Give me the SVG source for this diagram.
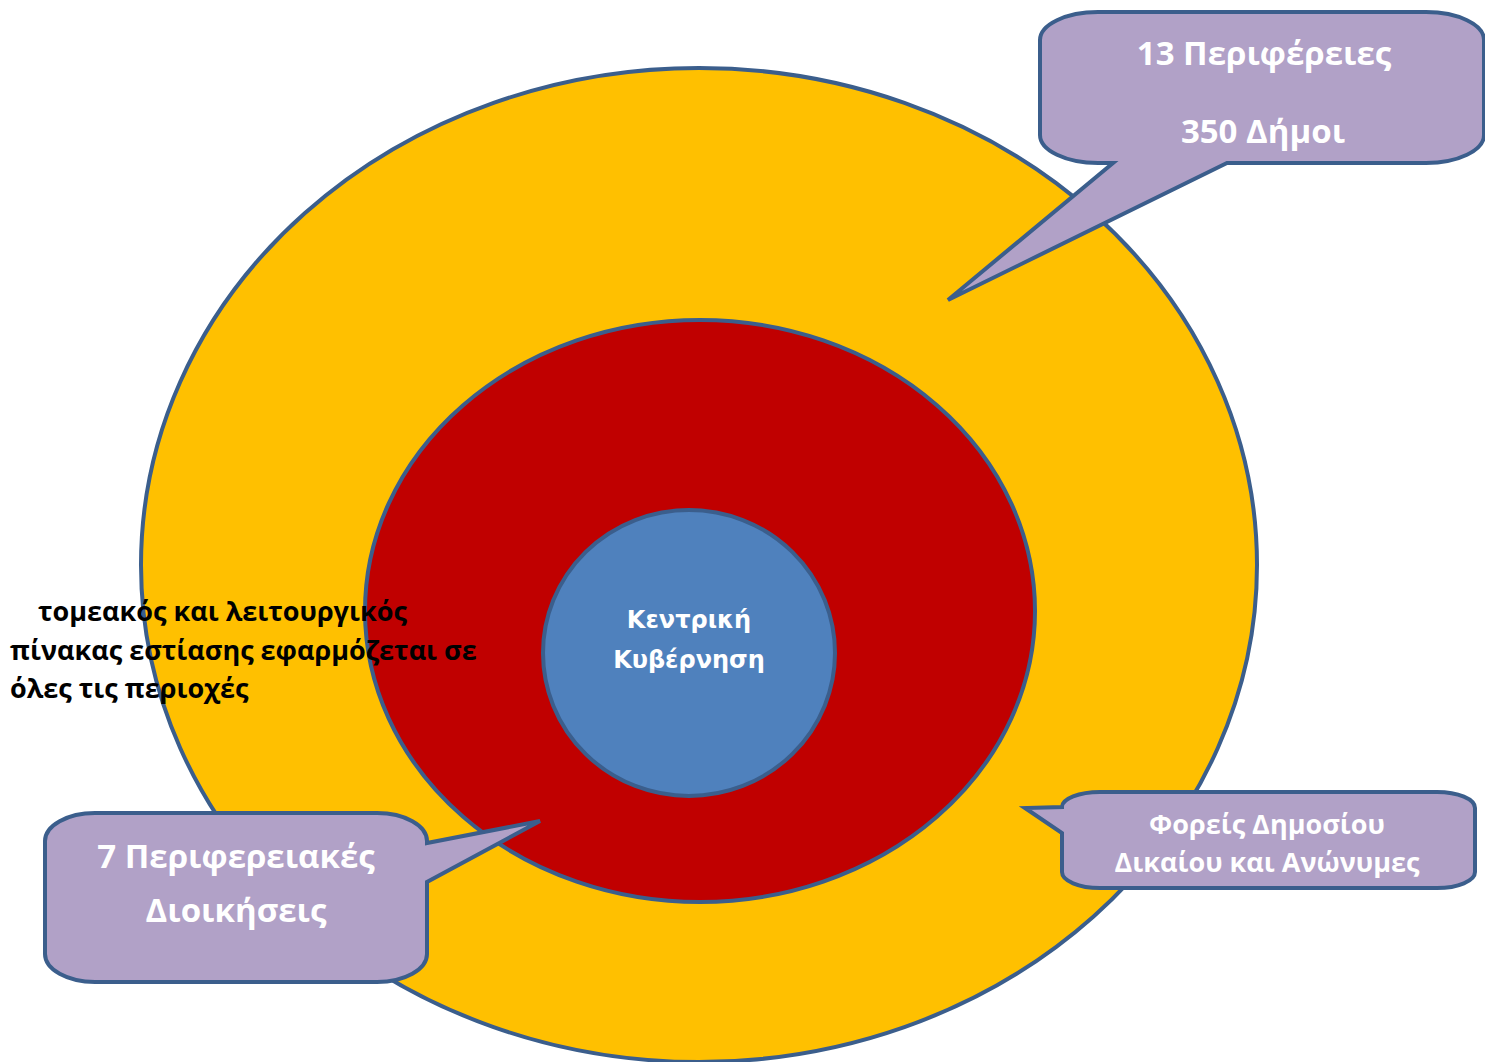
<svg xmlns="http://www.w3.org/2000/svg" width="1485" height="1062" viewBox="0 0 1485 1062">
  <style>
    .ring { stroke: #3B5E8C; stroke-width: 4; }
    .callout { fill: #B1A1C7; stroke: #3B5E8C; stroke-width: 4; stroke-linejoin: miter; }
    .lbl { font-family: "Open Sans", "Liberation Sans", sans-serif; font-weight: bold; fill: #FFFFFF; text-anchor: middle; }
    .core { font-family: "DejaVu Sans", "Liberation Sans", sans-serif; font-weight: bold; fill: #FFFFFF; text-anchor: middle; }
    .note { font-family: "Open Sans", "Liberation Sans", sans-serif; font-weight: bold; fill: #000000; }
  </style>
  <rect width="1485" height="1062" fill="#FFFFFF"/>

  <!-- concentric levels of government -->
  <g id="outer-ring">
    <ellipse class="ring" cx="699" cy="565" rx="558" ry="497" fill="#FFC000"/>
  </g>
  <g id="middle-ring">
    <ellipse class="ring" cx="700" cy="611" rx="335" ry="291" fill="#C00000"/>
  </g>
  <g id="central-government">
    <ellipse class="ring" cx="689" cy="653" rx="146" ry="143" fill="#4F81BD"/>
    <text class="core" x="689" y="628" font-size="24">Κεντρική</text>
    <text class="core" x="689" y="668" font-size="24">Κυβέρνηση</text>
  </g>

  <!-- callouts (the pointer is part of each shape) -->
  <g id="callout-regions">
    <path class="callout" d="M 1098,12 L 1426,12 A 58,28 0 0 1 1484,40 L 1484,135 A 58,28 0 0 1 1426,163 L 1227,163 L 948,300 L 1113,163 L 1098,163 A 58,28 0 0 1 1040,135 L 1040,40 A 58,28 0 0 1 1098,12 Z"/>
    <text class="lbl" x="1264" y="65" font-size="33">13 Περιφέρειες</text>
    <text class="lbl" x="1263" y="143" font-size="33">350 Δήμοι</text>
  </g>
  <g id="callout-decentralized">
    <path class="callout" d="M 95,813 L 377,813 A 50,28 0 0 1 427,841 L 427,843 L 540,821 L 427,882 L 427,954 A 50,28 0 0 1 377,982 L 95,982 A 50,28 0 0 1 45,954 L 45,841 A 50,28 0 0 1 95,813 Z"/>
    <text class="lbl" x="236" y="868" font-size="33">7 Περιφερειακές</text>
    <text class="lbl" x="236" y="922" font-size="33">Διοικήσεις</text>
  </g>
  <g id="callout-public-entities">
    <path class="callout" d="M 1100,792 L 1437,792 A 38,16 0 0 1 1475,808 L 1475,872 A 38,16 0 0 1 1437,888 L 1100,888 A 38,16 0 0 1 1062,872 L 1062,833 L 1025,808 L 1062,807 A 38,15 0 0 1 1100,792 Z"/>
    <text class="lbl" x="1267" y="834" font-size="27">Φορείς Δημοσίου</text>
    <text class="lbl" x="1267" y="872" font-size="27">Δικαίου και Ανώνυμες</text>
  </g>

  <g id="note">
    <text class="note" x="38" y="621" font-size="27">τομεακός και λειτουργικός</text>
    <text class="note" x="10" y="660" font-size="27">πίνακας εστίασης εφαρμόζεται σε</text>
    <text class="note" x="10" y="698" font-size="27">όλες τις περιοχές</text>
  </g>
</svg>
